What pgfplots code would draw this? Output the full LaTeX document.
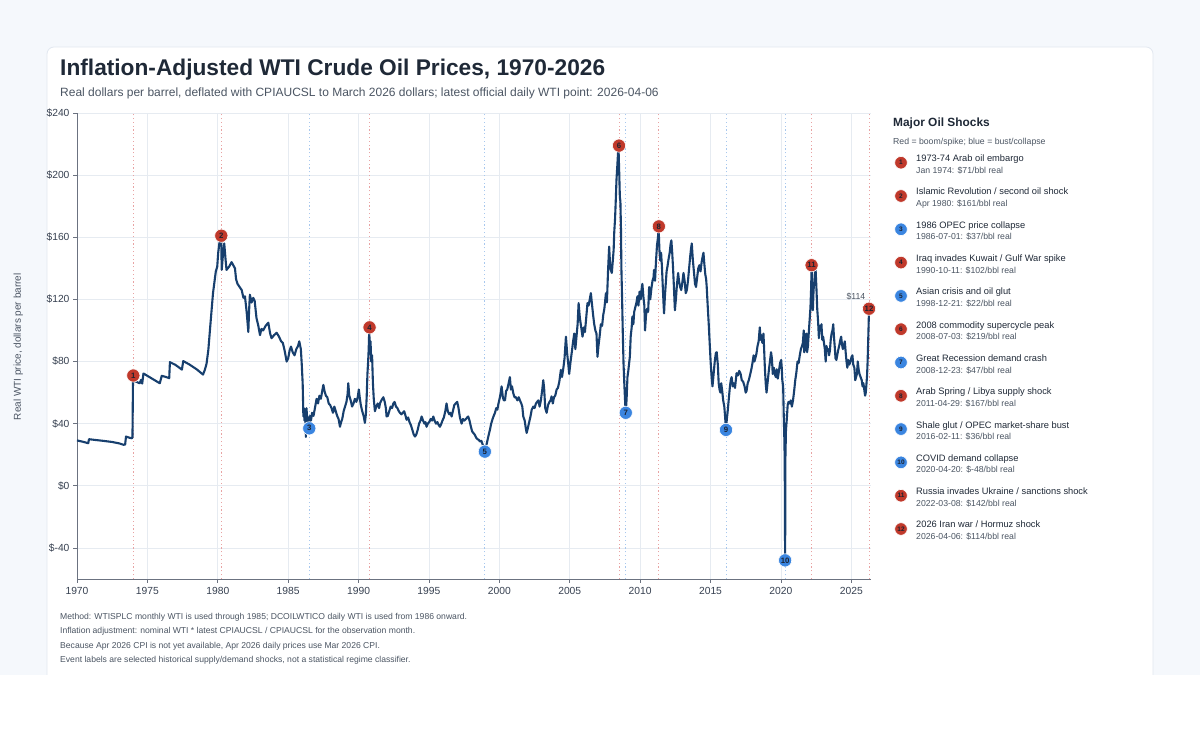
\documentclass[border=0pt]{standalone}
\usepackage{pgfplots}
\pgfplotsset{compat=1.18}
\usepackage{pgfplotstable}
\usepackage{fontspec}
\setmainfont{Liberation Sans}
\definecolor{bgc}{HTML}{F5F8FC}
\definecolor{cardb}{HTML}{E2E8F0}
\definecolor{titlec}{HTML}{1F2937}
\definecolor{subc}{HTML}{4B5563}
\definecolor{tickc}{HTML}{374151}
\definecolor{axisc}{HTML}{6B7280}
\definecolor{gridc}{HTML}{E6EBF1}
\definecolor{linec}{HTML}{173F6E}
\definecolor{redc}{HTML}{C0392B}
\definecolor{bluec}{HTML}{3A85E0}
\definecolor{evred}{HTML}{E8A3A3}
\definecolor{evblue}{HTML}{A8C8EE}
\definecolor{numc}{HTML}{1B2230}
\definecolor{legc}{HTML}{1F2937}

\pgfplotstableread{
x y
1970.00 29.2
1970.40 28.4
1970.80 27.4
1970.85 30.0
1971.30 29.5
1971.90 28.9
1972.50 28.2
1973.00 27.3
1973.30 26.4
1973.42 26.6
1973.48 31.7
1973.70 31.0
1973.90 30.6
1973.94 31.2
1973.98 70.0
1974.10 67.5
1974.30 66.6
1974.45 66.0
1974.55 68.2
1974.63 65.8
1974.72 72.3
1975.00 70.8
1975.40 68.6
1975.88 66.0
1976.02 70.8
1976.30 70.1
1976.55 69.3
1976.60 79.6
1977.00 77.8
1977.45 74.8
1977.55 80.3
1978.00 78.0
1978.50 75.0
1978.95 71.6
1979.08 74.6
1979.20 78.5
1979.33 87.5
1979.45 101
1979.56 113
1979.66 124
1979.76 131
1979.86 138
1979.96 141
1980.03 150
1980.11 156
1980.20 158
1980.24 160
1980.28 139
1980.36 148
1980.46 156
1980.55 146
1980.62 139
1980.80 141
1980.98 144
1981.10 142
1981.22 140
1981.30 133
1981.40 130
1981.55 128
1981.70 126
1981.82 121
1981.93 122
1982.05 112
1982.17 99
1982.22 112
1982.28 123
1982.40 118
1982.52 121
1982.62 119
1982.75 108
1982.88 103
1983.00 97
1983.10 101
1983.22 100
1983.40 103
1983.59 105
1983.72 98
1983.82 95
1984.00 97
1984.18 98.5
1984.35 96
1984.50 93
1984.62 92
1984.75 87
1984.89 80
1985.00 82
1985.10 87
1985.20 89.6
1985.32 86
1985.45 84
1985.58 88
1985.70 90
1985.79 93
1985.90 88
1985.96 79
1986.03 66
1986.08 44.6
1986.12 50
1986.16 42
1986.20 46
1986.26 31.5
1986.30 50
1986.36 42
1986.42 44
1986.48 37
1986.55 45
1986.62 42
1986.70 47
1986.80 45
1986.90 50
1987.02 56
1987.12 53
1987.22 58
1987.32 56
1987.42 61
1987.50 65
1987.58 61
1987.68 58
1987.78 57
1987.88 53
1987.98 52
1988.08 50
1988.18 47
1988.28 51
1988.38 48
1988.48 45
1988.58 43
1988.68 38
1988.76 41
1988.84 43
1988.94 48
1989.04 51
1989.14 54
1989.22 59
1989.27 66
1989.34 58
1989.44 55
1989.54 51
1989.64 53
1989.74 56
1989.84 54
1989.94 57
1990.02 62
1990.08 57
1990.16 52
1990.26 48
1990.36 45
1990.45 40.5
1990.52 46
1990.58 58
1990.63 72
1990.68 80
1990.72 88
1990.76 101
1990.80 86
1990.85 93
1990.90 80
1990.96 84
1991.02 66
1991.08 56
1991.16 48
1991.26 51
1991.36 53
1991.46 50
1991.52 53
1991.62 55
1991.76 57
1991.86 54
1991.94 50
1991.99 44.6
1992.08 45
1992.18 48
1992.28 51
1992.38 50
1992.47 53
1992.56 54
1992.66 51
1992.76 50
1992.86 48
1992.94 47
1993.04 46
1993.14 47
1993.24 48
1993.34 45
1993.41 42.5
1993.52 44
1993.62 41
1993.72 39
1993.82 36
1993.92 33
1994.01 31.7
1994.10 33
1994.20 36
1994.30 40
1994.40 42
1994.48 44.6
1994.58 42
1994.68 40
1994.76 41
1994.83 38
1994.92 40
1995.02 41
1995.12 43
1995.22 42
1995.31 44.6
1995.40 42
1995.50 40
1995.60 41
1995.70 39
1995.78 38
1995.88 40
1995.96 42
1996.06 44
1996.16 48
1996.25 53
1996.34 48
1996.44 46
1996.52 47
1996.61 44.6
1996.70 48
1996.80 52
1996.90 53
1997.01 54
1997.10 50
1997.20 44
1997.32 40
1997.42 43
1997.52 42
1997.62 43
1997.72 44
1997.79 44.6
1997.88 42
1997.98 38
1998.07 35
1998.15 34
1998.25 33
1998.35 31
1998.45 30
1998.55 29.5
1998.62 28.5
1998.72 29
1998.82 26.5
1998.90 25
1998.97 22
1999.05 25
1999.15 29
1999.25 33
1999.33 36
1999.42 40
1999.52 43
1999.60 45
1999.69 47
1999.78 50
1999.86 49
1999.94 53
2000.04 57
2000.10 60
2000.16 64
2000.25 57
2000.32 55
2000.40 55
2000.48 61
2000.56 62
2000.66 66
2000.75 70
2000.82 62
2000.90 64
2000.99 59.6
2001.08 57
2001.18 57
2001.28 55
2001.38 57
2001.46 55
2001.56 53
2001.63 51
2001.70 44.6
2001.80 42
2001.88 37
2001.94 34
2002.02 37
2002.12 41
2002.22 45
2002.30 49
2002.41 51
2002.50 50
2002.60 53
2002.68 54
2002.77 55
2002.86 51
2002.95 55
2003.05 62
2003.12 68
2003.18 63
2003.26 50
2003.36 47
2003.46 52
2003.56 54
2003.64 55
2003.71 57.6
2003.80 53
2003.88 57
2003.97 58
2004.07 62
2004.16 63
2004.26 67
2004.37 74.6
2004.45 70
2004.55 76
2004.63 82
2004.73 96
2004.82 85
2004.90 78
2004.96 72
2005.06 80
2005.16 87
2005.24 93
2005.32 98
2005.40 88
2005.48 96
2005.56 104
2005.63 117.6
2005.72 108
2005.80 103
2005.91 96
2006.00 102
2006.08 99
2006.17 108
2006.26 117.6
2006.34 116
2006.42 120
2006.50 124
2006.58 117
2006.66 110
2006.74 104
2006.82 100
2006.90 98
2006.97 83
2007.04 90
2007.12 96
2007.21 104
2007.30 103
2007.38 110
2007.46 114
2007.57 124
2007.64 118
2007.72 138
2007.80 154
2007.88 140
2007.99 137
2008.06 145
2008.12 152
2008.16 163
2008.22 172
2008.28 186
2008.32 197
2008.38 206
2008.46 219
2008.52 200
2008.56 186
2008.60 183
2008.64 165
2008.67 140
2008.72 120
2008.77 98
2008.82 79
2008.88 65
2008.94 53
2008.98 47
2009.04 56
2009.10 70
2009.16 74
2009.22 79
2009.27 83
2009.33 96
2009.40 102
2009.45 109
2009.52 104
2009.58 112
2009.66 115
2009.74 118
2009.81 122
2009.88 116
2009.96 125
2010.04 120
2010.10 126
2010.16 130
2010.24 121
2010.30 116
2010.35 100
2010.42 110
2010.50 114
2010.57 112
2010.64 128
2010.72 120
2010.80 127
2010.88 132
2010.95 134
2010.99 139
2011.06 132
2011.13 145
2011.20 155
2011.27 160
2011.31 167
2011.37 152
2011.43 145
2011.49 150
2011.55 141
2011.61 128
2011.66 118
2011.70 111
2011.76 122
2011.82 130
2011.88 138
2011.94 141
2012.02 146
2012.10 150
2012.17 156
2012.22 158
2012.28 150
2012.34 140
2012.40 128
2012.47 113
2012.54 120
2012.62 130
2012.70 137
2012.76 132
2012.84 128
2012.92 126
2013.00 131
2013.08 137
2013.16 132
2013.24 124
2013.32 126
2013.40 132
2013.48 140
2013.56 148
2013.62 153
2013.67 156
2013.74 146
2013.82 138
2013.90 130
2013.97 128
2014.05 134
2014.13 140
2014.21 142
2014.29 138
2014.37 144
2014.45 148
2014.50 150
2014.56 143
2014.63 136
2014.69 133
2014.73 128
2014.80 116
2014.88 103
2014.94 92
2015.02 78
2015.08 70
2015.14 64
2015.22 72
2015.30 80
2015.38 85.5
2015.44 86
2015.52 78
2015.58 66
2015.64 62
2015.70 60
2015.76 66
2015.82 62
2015.90 55
2015.98 51
2016.04 44
2016.10 36
2016.16 43
2016.22 48
2016.30 56
2016.38 64
2016.44 68
2016.50 70
2016.58 64
2016.66 66
2016.74 63
2016.85 72.5
2016.94 71
2017.04 74
2017.14 72
2017.22 68
2017.32 67
2017.42 64
2017.50 60
2017.56 61
2017.64 66
2017.72 68
2017.80 71
2017.90 75
2017.98 79
2018.06 84
2018.12 80
2018.18 82
2018.26 85
2018.34 90
2018.42 93
2018.50 102
2018.56 94
2018.62 97
2018.68 92
2018.76 98
2018.80 90
2018.86 76
2018.92 66
2018.98 60
2019.06 67
2019.14 74
2019.22 80
2019.30 86
2019.36 82
2019.42 72
2019.50 76
2019.56 72
2019.64 70
2019.70 75
2019.78 69
2019.86 74
2019.94 79
2020.02 81
2020.06 76
2020.10 68
2020.16 64
2020.20 46
2020.24 32
2020.27 17
2020.30 -48
2020.32 18
2020.36 36
2020.42 43
2020.48 52
2020.54 54
2020.62 53
2020.70 55
2020.78 51
2020.86 55
2020.94 61
2021.02 68
2021.10 73
2021.18 80
2021.26 79
2021.34 84
2021.42 88
2021.50 90
2021.56 92
2021.62 100
2021.66 86
2021.72 90
2021.80 98
2021.86 86
2021.92 90
2021.99 100
2022.05 108
2022.10 115
2022.15 128
2022.18 142
2022.22 120
2022.27 113
2022.32 126
2022.38 132
2022.42 138
2022.46 140
2022.52 128
2022.58 114
2022.64 106
2022.70 95
2022.76 103
2022.82 100
2022.88 104
2022.94 94
2023.00 96
2023.06 92
2023.12 88
2023.18 80
2023.24 90
2023.30 87
2023.36 88
2023.42 84
2023.48 87
2023.54 94
2023.60 98
2023.66 100
2023.72 104
2023.76 97
2023.82 90
2023.88 82
2023.94 81
2024.00 84
2024.06 87
2024.14 90
2024.22 94
2024.28 96
2024.34 91
2024.40 88
2024.46 90
2024.54 93
2024.60 86
2024.66 80
2024.72 76
2024.78 81
2024.86 78
2024.94 80
2025.02 83
2025.08 84
2025.14 78
2025.22 76
2025.28 68
2025.34 70
2025.40 72
2025.46 80
2025.52 75
2025.58 72
2025.66 70
2025.74 68
2025.80 64
2025.86 66
2025.92 62
2025.98 58
2026.03 60
2026.08 66
2026.12 71
2026.16 80
2026.19 90
2026.22 100
2026.26 114
}\oil

\newcommand\legitem[5]{%
  \fill[#2, draw=white, line width=0.6pt] (901,{570.3-33.3*#1}) circle (6.3pt);
  \node[font=\fontsize{6.5}{7}\selectfont\bfseries, text=numc, inner sep=0pt] at (901,{570.3-33.3*#1}) {#3};
  \node[anchor=base west, inner sep=0pt, font=\fontsize{9.3}{11}\selectfont, text=legc] at (916,{571.3-33.3*#1}) {#4};
  \node[anchor=base west, inner sep=0pt, font=\fontsize{8.7}{10}\selectfont, text=subc] at (916,{559.7-33.3*#1}) {#5};
}

\begin{document}
\begin{tikzpicture}[x=1pt,y=1pt]
\useasboundingbox (0,0) rectangle (1200,733);
\fill[bgc] (0,58) rectangle (1200,733);
\draw[cardb, fill=white, line width=0.8pt, rounded corners=7pt] (47,30) rectangle (1153,686);
\fill[white] (0,0) rectangle (1200,58);

\node[anchor=base west, inner sep=0pt, font=\fontsize{22.7}{26}\selectfont\bfseries, text=titlec] at (60,657) {Inflation-Adjusted WTI Crude Oil Prices, 1970-2026};
\node[anchor=base west, inner sep=0pt, font=\fontsize{12}{14}\selectfont, text=subc] at (60,636.3) {Real dollars per barrel, deflated with CPIAUCSL to March 2026 dollars; latest official daily WTI point: 2026-04-06};

\begin{axis}[
  at={(77pt,154pt)}, anchor=south west,
  scale only axis, width=794pt, height=466pt,
  xmin=1970, xmax=2026.4, ymin=-60, ymax=240,
  axis lines=left,
  axis line style={-, draw=axisc, line width=0.8pt},
  tick align=outside, major tick length=4pt,
  tick style={draw=axisc, line width=0.8pt},
  xtick={1970,1975,1980,1985,1990,1995,2000,2005,2010,2015,2020,2025},
  xticklabels={1970,1975,1980,1985,1990,1995,2000,2005,2010,2015,2020,2025},
  ytick={-40,0,40,80,120,160,200,240},
  yticklabels={\$-40,\$0,\$40,\$80,\$120,\$160,\$200,\$240},
  grid=major,
  major grid style={draw=gridc, line width=0.8pt},
  tick label style={font=\fontsize{10.3}{12}\selectfont, text=tickc},
  xticklabel style={yshift=-1pt},
  clip=false,
]
% event lines
\addplot[evred, line width=0.8pt, dash pattern=on 1.2pt off 2.6pt, forget plot] coordinates {(1974.0,-60) (1974.0,240)};
\addplot[evred, line width=0.8pt, dash pattern=on 1.2pt off 2.6pt, forget plot] coordinates {(1980.25,-60) (1980.25,240)};
\addplot[evblue, line width=0.8pt, dash pattern=on 1.2pt off 2.6pt, forget plot] coordinates {(1986.5,-60) (1986.5,240)};
\addplot[evred, line width=0.8pt, dash pattern=on 1.2pt off 2.6pt, forget plot] coordinates {(1990.78,-60) (1990.78,240)};
\addplot[evblue, line width=0.8pt, dash pattern=on 1.2pt off 2.6pt, forget plot] coordinates {(1998.97,-60) (1998.97,240)};
\addplot[evred, line width=0.8pt, dash pattern=on 1.2pt off 2.6pt, forget plot] coordinates {(2008.5,-60) (2008.5,240)};
\addplot[evblue, line width=0.8pt, dash pattern=on 1.2pt off 2.6pt, forget plot] coordinates {(2008.98,-60) (2008.98,240)};
\addplot[evred, line width=0.8pt, dash pattern=on 1.2pt off 2.6pt, forget plot] coordinates {(2011.33,-60) (2011.33,240)};
\addplot[evblue, line width=0.8pt, dash pattern=on 1.2pt off 2.6pt, forget plot] coordinates {(2016.1,-60) (2016.1,240)};
\addplot[evblue, line width=0.8pt, dash pattern=on 1.2pt off 2.6pt, forget plot] coordinates {(2020.3,-60) (2020.3,240)};
\addplot[evred, line width=0.8pt, dash pattern=on 1.2pt off 2.6pt, forget plot] coordinates {(2022.18,-60) (2022.18,240)};
\addplot[evred, line width=0.8pt, dash pattern=on 1.2pt off 2.6pt, forget plot] coordinates {(2026.26,-60) (2026.26,240)};

% price line
\addplot[linec, line width=2.1pt, line join=round, mark=none] table[x=x, y=y] {\oil};

% event markers
\addplot[only marks, mark=*, mark size=6.6pt, mark options={fill=redc, draw=white, line width=0.6pt},
  nodes near coords, point meta=explicit symbolic,
  every node near coord/.append style={anchor=center, inner sep=0pt, font=\fontsize{7.8}{8}\selectfont\bfseries, text=numc}]
  coordinates {(1974.0,71) [1] (1980.25,161) [2] (1990.78,102) [4] (2008.5,219) [6] (2011.33,167) [8] (2022.18,142) [11] (2026.26,114) [12]};
\addplot[only marks, mark=*, mark size=6.6pt, mark options={fill=bluec, draw=white, line width=0.6pt},
  nodes near coords, point meta=explicit symbolic,
  every node near coord/.append style={anchor=center, inner sep=0pt, font=\fontsize{7.8}{8}\selectfont\bfseries, text=numc}]
  coordinates {(1986.5,37) [3] (1998.97,22) [5] (2008.98,47) [7] (2016.1,36) [9] (2020.3,-48) [10]};

\node[font=\fontsize{8.7}{10}\selectfont, text=subc] at (axis cs:2025.33,121.7) {\$114};
\end{axis}

\node[rotate=90, font=\fontsize{10}{12}\selectfont, text=subc] at (18.3,386.3) {Real WTI price, dollars per barrel};

% legend panel
\node[anchor=base west, inner sep=0pt, font=\fontsize{11.9}{14}\selectfont\bfseries, text=titlec] at (893,606.3) {Major Oil Shocks};
\node[anchor=base west, inner sep=0pt, font=\fontsize{8.7}{10}\selectfont, text=subc] at (893,588) {Red = boom/spike; blue = bust/collapse};
\legitem{0}{redc}{1}{1973-74 Arab oil embargo}{Jan 1974: \$71/bbl real}
\legitem{1}{redc}{2}{Islamic Revolution / second oil shock}{Apr 1980: \$161/bbl real}
\legitem{2}{bluec}{3}{1986 OPEC price collapse}{1986-07-01: \$37/bbl real}
\legitem{3}{redc}{4}{Iraq invades Kuwait / Gulf War spike}{1990-10-11: \$102/bbl real}
\legitem{4}{bluec}{5}{Asian crisis and oil glut}{1998-12-21: \$22/bbl real}
\legitem{5}{redc}{6}{2008 commodity supercycle peak}{2008-07-03: \$219/bbl real}
\legitem{6}{bluec}{7}{Great Recession demand crash}{2008-12-23: \$47/bbl real}
\legitem{7}{redc}{8}{Arab Spring / Libya supply shock}{2011-04-29: \$167/bbl real}
\legitem{8}{bluec}{9}{Shale glut / OPEC market-share bust}{2016-02-11: \$36/bbl real}
\legitem{9}{bluec}{10}{COVID demand collapse}{2020-04-20: \$-48/bbl real}
\legitem{10}{redc}{11}{Russia invades Ukraine / sanctions shock}{2022-03-08: \$142/bbl real}
\legitem{11}{redc}{12}{2026 Iran war / Hormuz shock}{2026-04-06: \$114/bbl real}

% footnotes
\node[anchor=base west, inner sep=0pt, font=\fontsize{8.6}{10}\selectfont, text=subc] at (60,113.7) {Method: WTISPLC monthly WTI is used through 1985; DCOILWTICO daily WTI is used from 1986 onward.};
\node[anchor=base west, inner sep=0pt, font=\fontsize{8.6}{10}\selectfont, text=subc] at (60,99.0) {Inflation adjustment: nominal WTI * latest CPIAUCSL / CPIAUCSL for the observation month.};
\node[anchor=base west, inner sep=0pt, font=\fontsize{8.6}{10}\selectfont, text=subc] at (60,84.7) {Because Apr 2026 CPI is not yet available, Apr 2026 daily prices use Mar 2026 CPI.};
\node[anchor=base west, inner sep=0pt, font=\fontsize{8.6}{10}\selectfont, text=subc] at (60,70.3) {Event labels are selected historical supply/demand shocks, not a statistical regime classifier.};
\end{tikzpicture}
\end{document}
